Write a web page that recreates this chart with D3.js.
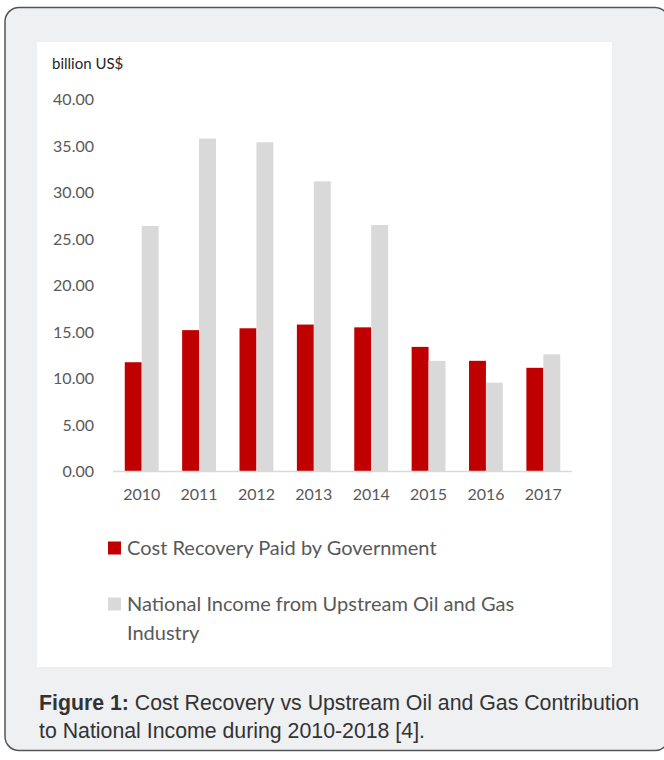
<!DOCTYPE html>
<html lang="en">
<head>
  <meta charset="UTF-8">
  <title>Cost Recovery vs Upstream Oil and Gas Contribution</title>
  <script src="https://d3js.org/d3.v7.min.js"></script>
  <style>
    body { margin: 0; background: #fff; }
    .tick text { font-family: Lato, sans-serif; font-size: 16px; fill: #595959; }
    .legend-text { font-family: Lato, sans-serif; font-size: 20px; fill: #595959; }
    .caption { font-family: "Liberation Sans", Arial, sans-serif; font-size: 21.3px; fill: #333; }
  </style>
</head>
<body>
  <div id="body"></div>
  <script>
    // data
    const years = ["2010", "2011", "2012", "2013", "2014", "2015", "2016", "2017"];
    const costRecovery = [11.75, 15.2, 15.4, 15.8, 15.5, 13.4, 11.9, 11.15];
    const nationalIncome = [26.4, 35.8, 35.4, 31.2, 26.5, 11.9, 9.55, 12.6];
    const seriesNames = ["Cost Recovery Paid by Government", "National Income from Upstream Oil and Gas Industry"];
    const yTicks = [0, 5, 10, 15, 20, 25, 30, 35, 40];

    const width = 664, height = 760;
    const plot = { left: 113, right: 572, top: 99.5, bottom: 471.5 };

    const svg = d3.select("#body")
                  .append("svg")
                  .attr("width", width)
                  .attr("height", height);

    // outer grey card
    svg.append("rect")
       .attr("x", 5).attr("y", 7.5)
       .attr("width", 664).attr("height", 743)
       .attr("rx", 14)
       .attr("fill", "#eef0f2")
       .attr("stroke", "#555")
       .attr("stroke-width", 1.5);

    // white chart panel
    svg.append("rect")
       .attr("x", 37).attr("y", 42)
       .attr("width", 575).attr("height", 625)
       .attr("fill", "#fff");

    // scales
    const x0 = d3.scaleBand()
                 .domain(years)
                 .range([plot.left, plot.right])
                 .paddingInner(0.41)
                 .paddingOuter(0.205);

    const x1 = d3.scaleBand()
                 .domain(seriesNames)
                 .range([0, x0.bandwidth()]);

    const y = d3.scaleLinear()
                .domain([0, 40])
                .range([plot.bottom, plot.top]);

    const color = d3.scaleOrdinal()
                    .domain(seriesNames)
                    .range(["#c00000", "#d9d9d9"]);

    const rows = years.map((yr, i) => ({
      year: yr,
      values: [
        { key: seriesNames[0], value: costRecovery[i] },
        { key: seriesNames[1], value: nationalIncome[i] }
      ]
    }));

    // y-axis (labels only)
    svg.append("g")
       .attr("transform", `translate(${plot.left - 19},0)`)
       .call(d3.axisLeft(y).tickValues(yTicks).tickSize(0).tickPadding(0).tickFormat(d3.format(".2f")))
       .call(g => g.select(".domain").remove());

    // bars
    svg.append("g")
       .selectAll("g")
       .data(rows)
       .enter()
       .append("g")
       .attr("transform", d => `translate(${x0(d.year)},0)`)
       .selectAll("rect")
       .data(d => d.values)
       .enter()
       .append("rect")
       .attr("x", d => x1(d.key))
       .attr("y", d => y(d.value))
       .attr("width", x1.bandwidth())
       .attr("height", d => y(0) - y(d.value))
       .attr("fill", d => color(d.key));

    // baseline
    svg.append("line")
       .attr("x1", plot.left).attr("x2", plot.right)
       .attr("y1", y(0)).attr("y2", y(0))
       .attr("stroke", "#d9d9d9")
       .attr("stroke-width", 1.5);

    // x-axis labels
    svg.append("g")
       .attr("transform", `translate(0,${y(0) + 23})`)
       .call(d3.axisBottom(x0).tickSize(0).tickPadding(0))
       .call(g => g.select(".domain").remove())
       .selectAll("text")
       .attr("dy", "0.35em");

    // unit label
    svg.append("text")
       .attr("x", 52)
       .attr("y", 69)
       .attr("font-family", "Lato, sans-serif")
       .attr("font-size", 15)
       .attr("fill", "#262626")
       .text("billion US$");

    // legend
    const legendItems = [
      { key: seriesNames[0], lines: ["Cost Recovery Paid by Government"], y: 548 },
      { key: seriesNames[1], lines: ["National Income from Upstream Oil and Gas", "Industry"], y: 604 }
    ];
    const legend = svg.append("g");
    legendItems.forEach(item => {
      legend.append("rect")
            .attr("x", 108).attr("y", item.y - 6.5)
            .attr("width", 13).attr("height", 13)
            .attr("fill", color(item.key));
      const t = legend.append("text")
                      .attr("class", "legend-text")
                      .attr("x", 127)
                      .attr("y", item.y);
      item.lines.forEach((line, i) => {
        t.append("tspan")
         .attr("x", 127)
         .attr("dy", i === 0 ? "0.35em" : 29)
         .text(line);
      });
    });

    // caption
    const cap = svg.append("text").attr("class", "caption");
    const l1 = cap.append("tspan").attr("x", 39).attr("y", 710);
    l1.append("tspan").attr("font-weight", "bold").text("Figure 1:");
    l1.append("tspan").text(" Cost Recovery vs Upstream Oil and Gas Contribution");
    cap.append("tspan").attr("x", 39).attr("y", 738)
       .text("to National Income during 2010-2018 [4].");
  </script>
</body>
</html>
